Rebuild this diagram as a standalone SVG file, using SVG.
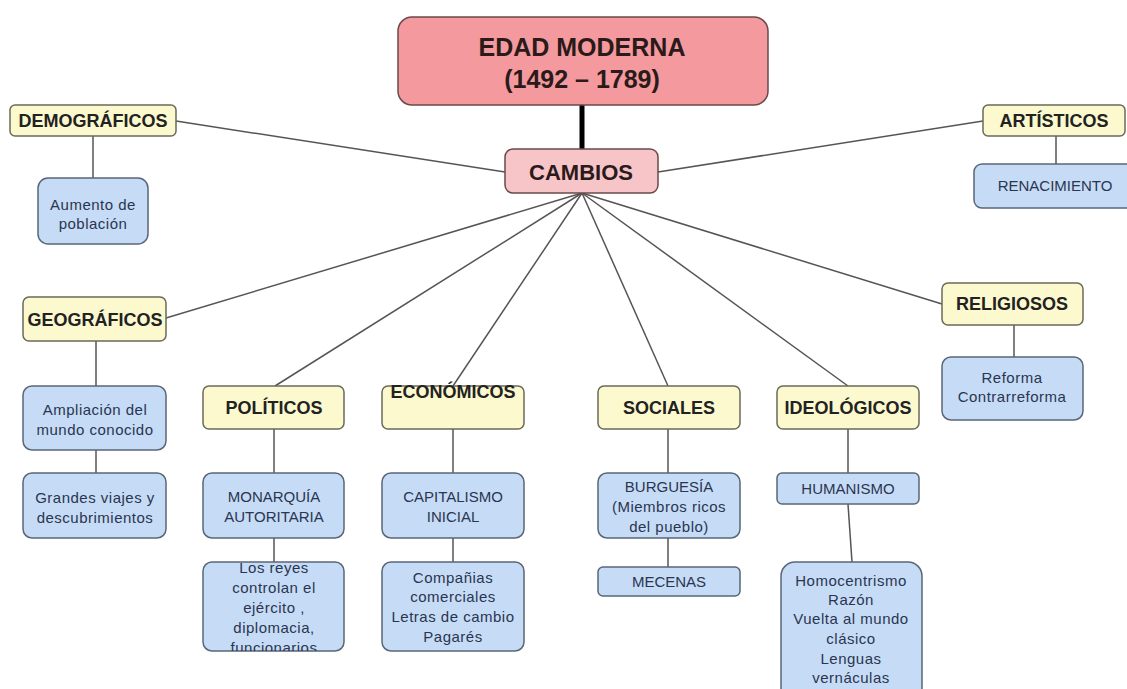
<svg xmlns="http://www.w3.org/2000/svg" width="1127" height="689" viewBox="0 0 1127 689">
<style>
.head{fill:#fcf9cf;stroke:#6a6a5a;stroke-width:1.5}
.leaf{fill:#c6dcf6;stroke:#5a6678;stroke-width:1.5}
.ht{font-family:"Liberation Sans",Arial,sans-serif;font-weight:bold;font-size:18px;fill:#222;text-anchor:middle}
.lt{font-family:"Liberation Sans",Arial,sans-serif;font-size:15px;fill:#2a3550;text-anchor:middle;letter-spacing:0.5px}
.up{letter-spacing:0}
.con line{stroke:#555;stroke-width:1.5}
</style>
<defs>
<clipPath id="cpReyes"><rect x="203" y="562" width="141" height="89" rx="9"/></clipPath>
</defs>
<rect width="1127" height="689" fill="#fff"/>
<g id="connectors" class="con">
<line x1="582" y1="105" x2="582" y2="150" style="stroke:#000;stroke-width:5"/>
<line x1="505" y1="172" x2="176" y2="121"/>
<line x1="658" y1="172" x2="983" y2="121"/>
<line x1="582" y1="193" x2="166" y2="318"/>
<line x1="582" y1="193" x2="275" y2="386"/>
<line x1="582" y1="193" x2="453" y2="386"/>
<line x1="582" y1="193" x2="668" y2="386"/>
<line x1="582" y1="193" x2="848" y2="386"/>
<line x1="582" y1="193" x2="942" y2="304"/>
<line x1="93" y1="136" x2="93" y2="178"/>
<line x1="1056" y1="136" x2="1056" y2="165"/>
<line x1="96" y1="341" x2="96" y2="386"/>
<line x1="96" y1="450" x2="96" y2="473"/>
<line x1="274" y1="429" x2="274" y2="473"/>
<line x1="274" y1="538" x2="274" y2="562"/>
<line x1="453" y1="429" x2="453" y2="473"/>
<line x1="453" y1="538" x2="453" y2="562"/>
<line x1="668" y1="429" x2="668" y2="473"/>
<line x1="668" y1="538" x2="668" y2="567"/>
<line x1="848" y1="429" x2="848" y2="473"/>
<line x1="848" y1="504" x2="852" y2="562"/>
<line x1="1014" y1="325" x2="1014" y2="357"/>
</g>
<g id="edad">
<rect x="398" y="17" width="370" height="88" rx="14" fill="#f4999d" stroke="#6a4a4a" stroke-width="1.5"/>
<text x="582" y="56" style="font-family:'Liberation Sans',Arial,sans-serif;font-weight:bold;font-size:25px;fill:#2a1a1a;text-anchor:middle">EDAD MODERNA</text>
<text x="582" y="88" style="font-family:'Liberation Sans',Arial,sans-serif;font-weight:bold;font-size:25px;fill:#2a1a1a;text-anchor:middle">(1492 – 1789)</text>
</g>
<g id="cambios">
<rect x="505" y="149" width="153" height="44" rx="8" fill="#f7c4c7" stroke="#6a4a4a" stroke-width="1.5"/>
<text x="581" y="180" style="font-family:'Liberation Sans',Arial,sans-serif;font-weight:bold;font-size:22px;fill:#2a1a1a;text-anchor:middle">CAMBIOS</text>
</g>
<g id="demograficos">
<rect class="head" x="10" y="105" width="166" height="31" rx="5"/>
<text class="ht" x="93" y="127">DEMOGRÁFICOS</text>
</g>
<g id="aumento">
<rect class="leaf" x="38" y="178" width="110" height="66" rx="10"/>
<text class="lt" x="93" y="210">Aumento de</text>
<text class="lt" x="93" y="229">población</text>
</g>
<g id="artisticos">
<rect class="head" x="983" y="105" width="142" height="31" rx="5"/>
<text class="ht" x="1054" y="127">ARTÍSTICOS</text>
</g>
<g id="renacimiento">
<rect class="leaf" x="974" y="164" width="160" height="44" rx="8"/>
<text class="lt up" x="1055" y="191">RENACIMIENTO</text>
</g>
<g id="geograficos">
<rect class="head" x="23" y="297" width="143" height="44" rx="6"/>
<text class="ht" x="95" y="326">GEOGRÁFICOS</text>
</g>
<g id="ampliacion">
<rect class="leaf" x="23" y="386" width="143" height="64" rx="9"/>
<text class="lt" x="95" y="415">Ampliación del</text>
<text class="lt" x="95" y="435">mundo conocido</text>
</g>
<g id="grandes">
<rect class="leaf" x="23" y="473" width="143" height="65" rx="9"/>
<text class="lt" x="95" y="503">Grandes viajes y</text>
<text class="lt" x="95" y="523">descubrimientos</text>
</g>
<g id="politicos">
<rect class="head" x="203" y="386" width="141" height="43" rx="6"/>
<text class="ht" x="274" y="414">POLÍTICOS</text>
</g>
<g id="monarquia">
<rect class="leaf" x="203" y="473" width="141" height="65" rx="9"/>
<text class="lt up" x="274" y="502">MONARQUÍA</text>
<text class="lt up" x="274" y="522">AUTORITARIA</text>
</g>
<g id="reyes">
<rect class="leaf" x="203" y="562" width="141" height="89" rx="9"/>
<g clip-path="url(#cpReyes)">
<text class="lt" x="274" y="573">Los reyes</text>
<text class="lt" x="274" y="593">controlan el</text>
<text class="lt" x="274" y="613">ejército ,</text>
<text class="lt" x="274" y="633">diplomacia,</text>
<text class="lt" x="274" y="653">funcionarios</text>
</g>
</g>
<g id="economicos">
<rect class="head" x="382" y="386" width="142" height="43" rx="6"/>
<text class="ht" x="453" y="398">ECONÓMICOS</text>
</g>
<g id="capitalismo">
<rect class="leaf" x="382" y="473" width="142" height="65" rx="9"/>
<text class="lt up" x="453" y="502">CAPITALISMO</text>
<text class="lt up" x="453" y="522">INICIAL</text>
</g>
<g id="companias">
<rect class="leaf" x="382" y="562" width="142" height="89" rx="9"/>
<text class="lt" x="453" y="583">Compañias</text>
<text class="lt" x="453" y="602">comerciales</text>
<text class="lt" x="453" y="622">Letras de cambio</text>
<text class="lt" x="453" y="642">Pagarés</text>
</g>
<g id="sociales">
<rect class="head" x="598" y="386" width="142" height="43" rx="6"/>
<text class="ht" x="669" y="414">SOCIALES</text>
</g>
<g id="burguesia">
<rect class="leaf" x="598" y="473" width="142" height="65" rx="9"/>
<text class="lt up" x="669" y="492">BURGUESÍA</text>
<text class="lt" x="669" y="512">(Miembros ricos</text>
<text class="lt" x="669" y="532">del pueblo)</text>
</g>
<g id="mecenas">
<rect class="leaf" x="598" y="567" width="142" height="29" rx="5"/>
<text class="lt up" x="669" y="587">MECENAS</text>
</g>
<g id="ideologicos">
<rect class="head" x="777" y="386" width="142" height="43" rx="6"/>
<text class="ht" x="848" y="414">IDEOLÓGICOS</text>
</g>
<g id="humanismo">
<rect class="leaf" x="777" y="473" width="142" height="31" rx="5"/>
<text class="lt up" x="848" y="494">HUMANISMO</text>
</g>
<g id="homocentrismo">
<rect class="leaf" x="781" y="562" width="141" height="140" rx="14"/>
<text class="lt" x="851" y="586">Homocentrismo</text>
<text class="lt" x="851" y="605">Razón</text>
<text class="lt" x="851" y="624">Vuelta al mundo</text>
<text class="lt" x="851" y="644">clásico</text>
<text class="lt" x="851" y="664">Lenguas</text>
<text class="lt" x="851" y="683">vernáculas</text>
</g>
<g id="religiosos">
<rect class="head" x="942" y="283" width="141" height="42" rx="6"/>
<text class="ht" x="1012" y="310">RELIGIOSOS</text>
</g>
<g id="reforma">
<rect class="leaf" x="942" y="357" width="141" height="63" rx="9"/>
<text class="lt" x="1012" y="383">Reforma</text>
<text class="lt" x="1012" y="402">Contrarreforma</text>
</g>
</svg>
